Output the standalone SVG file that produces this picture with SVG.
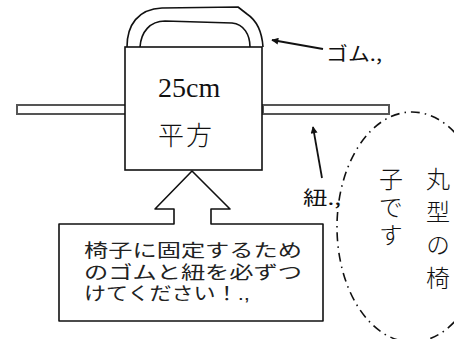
<svg xmlns="http://www.w3.org/2000/svg" width="454" height="339" viewBox="0 0 454 339">
<style>
.ln{fill:none;stroke:#111;stroke-width:1.6;stroke-linejoin:round}
.bar{fill:#fff;stroke:#555;stroke-width:2}
.jp{font-family:"Noto Sans CJK JP","Noto Sans",sans-serif;fill:#111}
.cap{font-family:"Liberation Sans","Noto Sans CJK JP",sans-serif;font-size:18px;fill:#222;font-weight:400}
.vt{font-family:"Noto Sans CJK JP",sans-serif;font-size:24px;font-weight:300;fill:#111;writing-mode:vertical-rl}
.con{fill:none;stroke:#111;stroke-width:1.8}
</style>
<defs>
<marker id="ah" viewBox="0 0 10 10" refX="9" refY="5" markerWidth="10" markerHeight="7" markerUnits="userSpaceOnUse" orient="auto">
<path d="M0,0 L10,5 L0,10 Z" fill="#111"/>
</marker>
</defs>
<rect width="454" height="339" fill="#fff"/>
<g id="bars">
<rect class="bar" x="17" y="105" width="111" height="9"/>
<rect class="bar" x="263" y="105" width="126" height="9"/>
</g>
<g id="handle">
<path class="ln" d="M127,47 C127,25 138,9 162,8 L238,7 L247,14 C256,20 262,32 263,47"/>
<path class="ln" d="M140,47 C141,32 150,21 165,21 L232,23 C244,24 250,35 250,47"/>
</g>
<g id="box">
<rect x="125" y="47" width="137" height="123" fill="#fff" stroke="#111" stroke-width="1.6"/>
<text x="158" y="97" font-family="Liberation Serif,serif" font-size="28" fill="#111">25cm</text>
<text class="jp" x="158" y="145" font-size="26" font-weight="300" textLength="54" lengthAdjust="spacing">平方</text>
</g>
<g id="callout">
<path class="ln" d="M59,224 L174,224 L174,209 L155,209 L192,171 L230,209 L211,209 L211,224 L323,224 L323,321 L59,321 Z" fill="#fff"/>
<text class="cap" x="84" y="257" textLength="218" lengthAdjust="spacingAndGlyphs">椅子に固定するため</text>
<text class="cap" x="84" y="279" textLength="218" lengthAdjust="spacingAndGlyphs">のゴムと紐を必ずつ</text>
<text class="cap" x="84" y="300" textLength="166" lengthAdjust="spacingAndGlyphs">けてください！.,</text>
</g>
<g id="label-gomu">
<text class="jp" x="326" y="61" font-size="19" textLength="56" lengthAdjust="spacingAndGlyphs">ゴム.,</text>
</g>
<g id="label-himo">
<text class="jp" x="303" y="205" font-size="19" textLength="38" lengthAdjust="spacingAndGlyphs">紐.,</text>
</g>
<g id="round-chair">
<ellipse cx="412" cy="227" rx="75" ry="115" fill="none" stroke="#111" stroke-width="1.6" stroke-dasharray="9 5 1.5 5"/>
<text class="vt" x="438" y="167" letter-spacing="9">丸型の椅</text>
<text class="vt" x="391" y="167" letter-spacing="4">子です</text>
</g>
<g id="connectors">
<line class="con" x1="323" y1="49" x2="272" y2="40" marker-end="url(#ah)"/>
<line class="con" x1="322" y1="178" x2="313" y2="127" marker-end="url(#ah)"/>
</g>
</svg>
